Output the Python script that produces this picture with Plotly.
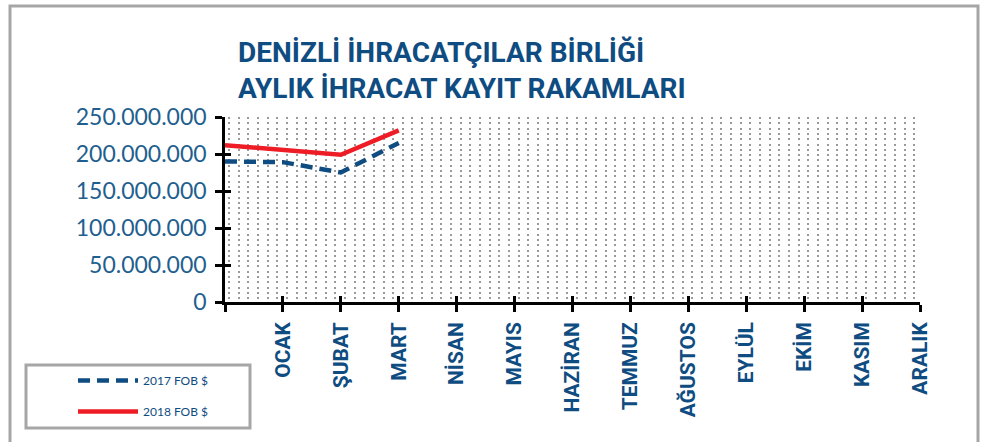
import plotly.graph_objects as go

# ---- data ----
months = ["OCAK", "ŞUBAT", "MART", "NİSAN", "MAYIS", "HAZİRAN", "TEMMUZ",
          "AĞUSTOS", "EYLÜL", "EKİM", "KASIM", "ARALIK"]
point_pos = [0, 1, 2, 3]
fob_2017 = [190_000_000, 189_000_000, 175_000_000, 215_000_000]
fob_2018 = [212_000_000, 206_000_000, 199_000_000, 232_000_000]
y_ticks = [0, 50_000_000, 100_000_000, 150_000_000, 200_000_000, 250_000_000]
y_tick_text = ["0", "50.000.000", "100.000.000", "150.000.000", "200.000.000", "250.000.000"]
title_lines = ["DENİZLİ İHRACATÇILAR BİRLİĞİ", "AYLIK İHRACAT KAYIT RAKAMLARI"]
series_names = ["2017 FOB $", "2018 FOB $"]

W, H = 984, 442
L, R, T, B = 225, 920, 117, 302


def px(x):
    return (x - L) / (R - L)


def py(y):
    return (B - y) / (B - T)


BLUE = "#0f4c81"
RED = "#ee1c25"
GREY = "#a6a6a6"
BOLDF = "Roboto, sans-serif"
LIGHT = "Lato, Open Sans, sans-serif"

fig = go.Figure()
fig.add_trace(go.Scatter(x=point_pos, y=fob_2017, mode="lines", name=series_names[0],
                         line=dict(color=BLUE, width=4.5, dash="12px,7px"),
                         legendgroup="a"))
fig.add_trace(go.Scatter(x=point_pos, y=fob_2018, mode="lines", name=series_names[1],
                         line=dict(color=RED, width=4.5), legendgroup="b"))
# invisible helper trace on overlay axes (for crossing ticks)
fig.add_trace(go.Scatter(x=[None], y=[None], xaxis="x2", yaxis="y2",
                         showlegend=False, hoverinfo="skip"))

tickvals_x = list(range(0, 13))
ticktext_x = [""] + months

fig.update_layout(
    width=W, height=H,
    margin=dict(l=L, r=W - R, t=T, b=H - B, autoexpand=False),
    paper_bgcolor="white", plot_bgcolor="white",
    showlegend=True,
    xaxis=dict(range=[0, 12], tickmode="array", tickvals=tickvals_x, ticktext=ticktext_x,
               tickangle=-90, tickfont=dict(family=BOLDF, size=21, color=BLUE, weight="bold"),
               showline=True, linecolor="black", linewidth=2.5,
               ticks="outside", ticklen=7, tickwidth=2.5, tickcolor="black",
               showgrid=False, zeroline=False, ticklabelstandoff=2,
               minor=dict(tick0=0.07, dtick=1 / 6, showgrid=True, gridcolor="#9a9a9a",
                          gridwidth=2, griddash="2px,3.3px", ticks="")),
    yaxis=dict(range=[0, 250_000_000], tickmode="array", tickvals=y_ticks, ticktext=y_tick_text,
               tickfont=dict(family=LIGHT, size=23, color="#1f5f8f"),
               showline=True, linecolor="black", linewidth=2.5,
               ticks="outside", ticklen=7, tickwidth=2.5, tickcolor="black",
               showgrid=False, zeroline=False, ticklabelstandoff=4),
    xaxis2=dict(overlaying="x", range=[0, 12], tickmode="array", tickvals=tickvals_x,
                showticklabels=False, ticks="inside", ticklen=6, tickwidth=2.5,
                tickcolor="black", showgrid=False, zeroline=False, showline=False, side="bottom"),
    yaxis2=dict(overlaying="y", range=[0, 250_000_000], tickmode="array", tickvals=y_ticks,
                showticklabels=False, ticks="inside", ticklen=6, tickwidth=2.5,
                tickcolor="black", showgrid=False, zeroline=False, showline=False, side="left"),
    legend=dict(x=px(73), y=py(366), xanchor="left", yanchor="top",
                bgcolor="rgba(0,0,0,0)", borderwidth=0, itemwidth=60,
                traceorder="grouped", tracegroupgap=12,
                font=dict(family=LIGHT, size=12, color=BLUE)),
    shapes=[
        dict(type="rect", xref="paper", yref="paper", x0=px(10), x1=px(978),
             y0=py(470), y1=py(6), line=dict(color=GREY, width=3), layer="below"),
        dict(type="rect", xref="paper", yref="paper", x0=px(26), x1=px(250),
             y0=py(428), y1=py(365), line=dict(color=GREY, width=3), layer="below"),
    ],
    annotations=[
        dict(text=title_lines[0], xref="paper", yref="paper", x=px(236), y=py(52),
             xanchor="left", yanchor="middle", showarrow=False,
             font=dict(family=BOLDF, size=28, color=BLUE, weight="bold")),
        dict(text=title_lines[1], xref="paper", yref="paper", x=px(236), y=py(88),
             xanchor="left", yanchor="middle", showarrow=False,
             font=dict(family=BOLDF, size=28, color=BLUE, weight="bold")),
    ],
)

fig.write_html("out.html", config={"displayModeBar": False},
               post_script="document.body.style.margin='0';document.body.style.overflow='hidden';")
